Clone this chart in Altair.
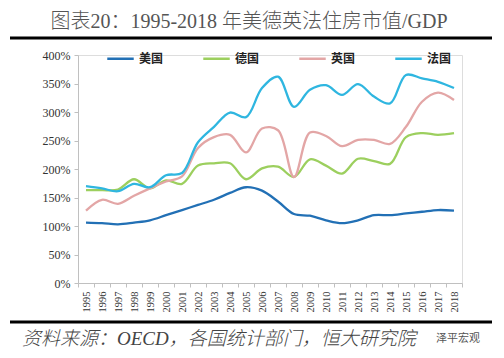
import altair as alt
import pandas as pd

years = [str(y) for y in range(1995, 2019)]
countries = ["美国", "德国", "英国", "法国"]
colors = ["#2270b5", "#9ccf5e", "#e3a6a6", "#2fb6e0"]

usa = [106, 105, 103, 106, 110, 119, 128, 137, 146, 158, 168, 162, 143, 121, 118, 110, 105, 110, 119, 119, 122, 125, 128, 127]
germany = [163, 163, 164, 182, 166, 180, 174, 206, 210, 210, 182, 201, 204, 186, 217, 206, 192, 218, 214, 209, 256, 263, 260, 263]
uk = [127, 146, 139, 153, 166, 178, 187, 237, 256, 260, 229, 271, 268, 186, 264, 258, 240, 251, 251, 244, 274, 318, 334, 321]
france = [170, 166, 161, 174, 168, 189, 193, 247, 274, 299, 291, 342, 362, 309, 339, 347, 330, 349, 327, 315, 365, 359, 353, 342]

series = {"美国": usa, "德国": germany, "英国": uk, "法国": france}
rows = []
for c in countries:
    for y, v in zip(years, series[c]):
        rows.append({"year": y, "country": c, "value": v})
df = pd.DataFrame(rows)

SERIF = "Liberation Serif, Noto Sans CJK SC"

lines = alt.Chart(df).mark_line(interpolate="catmull-rom", strokeWidth=2.3).encode(
    x=alt.X("year:O", bandPosition=0.5,
            scale=alt.Scale(type="band", paddingInner=0, paddingOuter=0),
            axis=alt.Axis(title=None, labelAngle=270, labelFont=SERIF, labelFontSize=10.5,
                          labelColor="#333", domainColor="#c0c0c0", tickColor="#c0c0c0",
                          tickBand="extent", tickSize=4, labelPadding=4, grid=False)),
    y=alt.Y("value:Q", scale=alt.Scale(domain=[0, 400]),
            axis=alt.Axis(title=None, values=[0, 50, 100, 150, 200, 250, 300, 350, 400],
                          labelExpr="datum.value + '%'", labelFont=SERIF, labelFontSize=12,
                          labelColor="#333", domainColor="#c0c0c0", tickColor="#c0c0c0",
                          tickSize=4, grid=False, labelPadding=4)),
    color=alt.Color("country:N", scale=alt.Scale(domain=countries, range=colors),
                    sort=countries,
                    legend=alt.Legend(title=None, orient="none", legendX=28, legendY=-11,
                                      direction="horizontal", symbolType="stroke",
                                      symbolSize=700, symbolStrokeWidth=2.5,
                                      labelFont="Noto Sans CJK SC", labelFontWeight="bold",
                                      labelFontSize=12, labelColor="#222",
                                      columnPadding=34, labelOffset=4)),
)

title = alt.Chart(pd.DataFrame({"t": ["图表20：1995-2018 年美德英法住房市值/GDP"]})).mark_text(
    font=SERIF, fontSize=20, fontWeight=300, color="#555", align="center", baseline="middle"
).encode(text="t:N", x=alt.value(171), y=alt.value(-33))

top_rule = alt.Chart(pd.DataFrame({"a": [0]})).mark_rule(color="#000", strokeWidth=3).encode(
    x=alt.value(-68), x2=alt.value(414), y=alt.value(-17))
bottom_rule = alt.Chart(pd.DataFrame({"a": [0]})).mark_rule(color="#000", strokeWidth=3).encode(
    x=alt.value(-68), x2=alt.value(414), y=alt.value(267))

source = alt.Chart(pd.DataFrame({"t": ["资料来源：OECD，各国统计部门，恒大研究院"]})).mark_text(
    font=SERIF, fontSize=19, fontStyle="italic", fontWeight=300, color="#444",
    align="left", baseline="middle"
).encode(text="t:N", x=alt.value(-56), y=alt.value(284))

mark = alt.Chart(pd.DataFrame({"t": ["泽平宏观"]})).mark_text(
    font="Noto Sans CJK SC", fontSize=11, color="#555", align="left", baseline="middle"
).encode(text="t:N", x=alt.value(358), y=alt.value(284))

chart = alt.layer(lines, title, top_rule, bottom_rule, source, mark).properties(
    width=384, height=228,
    autosize=alt.AutoSizeParams(type="none"),
    padding={"left": 70, "top": 47, "right": 32, "bottom": 67},
).configure_view(stroke=None).configure(background="white")

chart.save("out.html", embed_options={"renderer": "svg", "actions": False})
